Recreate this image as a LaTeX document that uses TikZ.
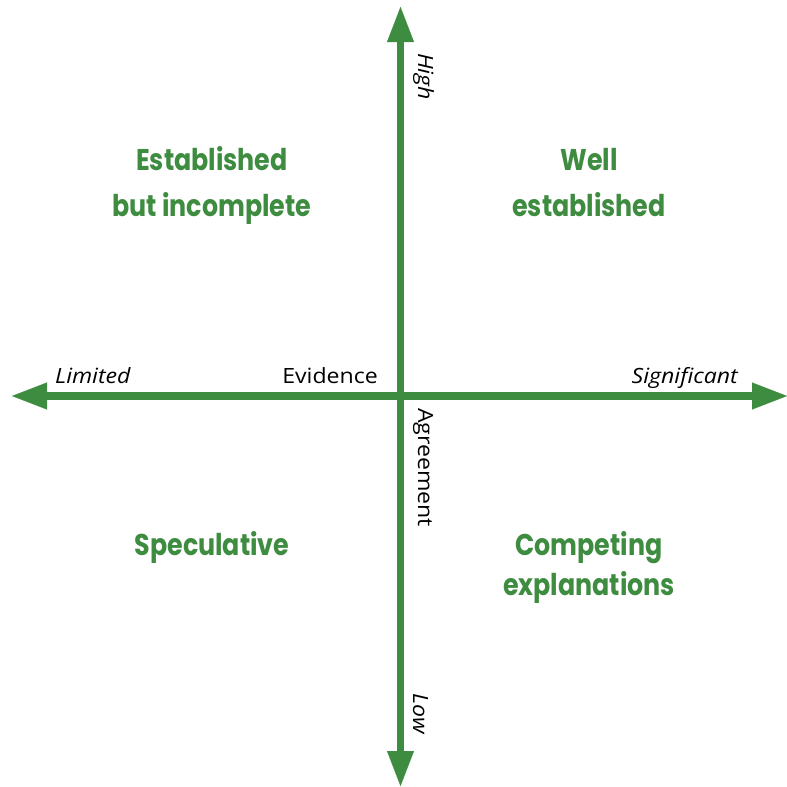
\documentclass[tikz,border=0pt]{standalone}
\usepackage{fontspec}
\setmainfont{Open Sans}
\newfontfamily\titlefont[FakeStretch=0.845]{Poppins}
\newfontfamily\smallfont[FakeStretch=1.1]{Open Sans}
\usetikzlibrary{arrows.meta}
\definecolor{ipccgreen}{RGB}{62,140,64}
\tikzset{
  axisline/.style={draw=ipccgreen, line width=7.5pt,
    {Triangle[length=35pt,width=27pt,line width=0.1pt]}-{Triangle[length=35pt,width=27pt,line width=0.1pt]}},
  quadlabel/.style={text=ipccgreen, font=\titlefont\bfseries\fontsize{30}{30}\selectfont, inner sep=0pt, anchor=base},
  axislabel/.style={font=\smallfont\fontsize{21}{21}\selectfont, inner sep=0pt},
  endlabel/.style={font=\smallfont\itshape\fontsize{21}{21}\selectfont, inner sep=0pt}
}
\begin{document}
\begin{tikzpicture}[x=1pt,y=-1pt]
\fill[white] (0,0) rectangle (787,787);
\useasboundingbox (0,0) rectangle (787,787);
\coordinate (L) at (12,396);
\coordinate (R) at (787,396);
\coordinate (T) at (400.5,7);
\coordinate (B) at (400.5,786);
\draw[axisline] (L) -- (R);
\draw[axisline] (T) -- (B);
\node[endlabel, anchor=base west] (limited) at (55,383) {Limited};
\node[endlabel, anchor=base east] (significant) at (738,383) {Significant};
\node[axislabel, anchor=base east] (evidence) at (378,383) {Evidence};
\node[endlabel, rotate=-90, anchor=base west] (high) at (418,53) {High};
\node[axislabel, rotate=-90, anchor=base west] (agreement) at (418,408) {Agreement};
\node[endlabel, rotate=-90, anchor=base west] (low) at (413,693) {Low};
\node[quadlabel] (ebi1) at (212,170) {Established};
\node[quadlabel] (ebi2) at (212,216) {but incomplete};
\node[quadlabel] (we1) at (589,170) {Well};
\node[quadlabel] (we2) at (589,216) {established};
\node[quadlabel] (spec) at (212,555) {Speculative};
\node[quadlabel] (ce1) at (589,555) {Competing};
\node[quadlabel] (ce2) at (589,595) {explanations};
\end{tikzpicture}
\end{document}
